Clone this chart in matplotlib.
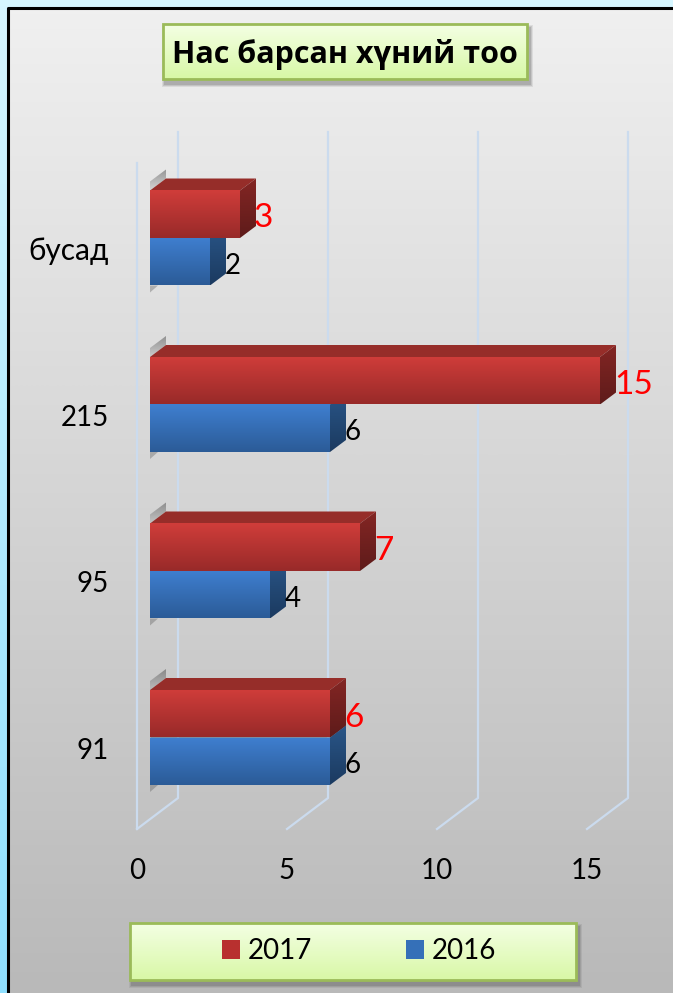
import numpy as np
import matplotlib
matplotlib.use("Agg")
import matplotlib.pyplot as plt
from matplotlib.colors import LinearSegmentedColormap
from matplotlib.patches import Polygon, Rectangle, Patch
from matplotlib.transforms import ScaledTranslation

# Datos
categorias = ["91", "95", "215", "бусад"]
valores_2017 = [6, 7, 15, 3]
valores_2016 = [6, 4, 6, 2]
ticks_x = [0, 5, 10, 15]
titulo = "Нас барсан хүний тоо"

plt.rcParams["font.family"] = ["Lato", "Open Sans", "DejaVu Sans"]

W, H = 673, 993
PX_X = 30.0     # pixeles por unidad del eje x
PX_Y = 166.5    # pixeles entre categorias
X0_PX, Y0_PX = 150, 737.5
DX, DY = 16 / PX_X, 12 / PX_Y    # profundidad de las barras
ALTO = 47.5 / PX_Y


def gradiente(ax, extent, c1, c2, clip=None, zorder=1):
    cmap = LinearSegmentedColormap.from_list("g", [c1, c2])
    im = ax.imshow(np.linspace(0, 1, 256).reshape(-1, 1), cmap=cmap, extent=extent,
                   aspect="auto", origin="upper", zorder=zorder, interpolation="bilinear")
    if clip is not None:
        ax.add_patch(clip)
        clip.set_visible(False)
        im.set_clip_path(clip)
    return im


fig = plt.figure(figsize=(W / 100, H / 100), dpi=100)

# Fondo, marco y cajas en coordenadas de pixel
fondo = fig.add_axes([0, 0, 1, 1], zorder=0)
gradiente(fondo, (0, W, H, 0), "#D6F6FF", "#8FE0FF", zorder=0)
gradiente(fondo, (8, W, H, 8), "#F0F0F0", "#B9B9B9", zorder=1)
fondo.plot([8, 8, W], [H, 8, 8], color="black", lw=2.2, zorder=2)


def caja(x0, y0, x1, y1):
    # sombra difusa en tres capas
    for m, a in [(5, 0.10), (3, 0.14), (1, 0.18)]:
        fondo.add_patch(Rectangle((x0 + 1 - m / 2, y0 + 3 - m / 2), x1 - x0 + 2 + m, y1 - y0 + 2 + m,
                                  fc="#444444", alpha=a, ec="none", zorder=3))
    gradiente(fondo, (x0, x1, y1, y0), "#F4FFE4", "#D8F8A6", zorder=4)
    fondo.add_patch(Rectangle((x0, y0), x1 - x0, y1 - y0, fc="none", ec="#9BBB59", lw=2, zorder=5))


caja(163, 24, 527, 79)
caja(130, 923, 576, 980)
fondo.text(345, 55, titulo, fontsize=22, fontweight="bold", family=["Open Sans", "DejaVu Sans"],
           ha="center", va="center", color="black", zorder=6)
fondo.set_xlim(0, W)
fondo.set_ylim(H, 0)
fondo.axis("off")

# Ejes del grafico
izq, der, arr, aba = 137, 628, 132, 829
ax = fig.add_axes([izq / W, 1 - aba / H, (der - izq) / W, (aba - arr) / H], zorder=1)
ax.patch.set_visible(False)
xlim = ((izq - X0_PX) / PX_X, (der - X0_PX) / PX_X)
ylim = ((Y0_PX - aba) / PX_Y, (Y0_PX - arr) / PX_Y)

# Rejilla
color_rejilla = "#CBDBEE"
suelo = ylim[0] + 31 / PX_Y
fondo_x = 28 / PX_X
frente_x = -13 / PX_X
for v in ticks_x:
    ax.plot([v + frente_x, v + fondo_x, v + fondo_x], [ylim[0], suelo, ylim[1]],
            color=color_rejilla, lw=1.6, zorder=1, clip_on=False, solid_joinstyle="miter")
ax.plot([frente_x, frente_x], [ylim[0], (Y0_PX - 163) / PX_Y], color=color_rejilla, lw=1.6,
        zorder=1, clip_on=False)


def barra(y_base, valor, colores, z):
    c_frente, c_frente2, c_lado, c_lado2, c_tapa = colores
    y_top = y_base + ALTO
    # sombra gris junto a la barra, se desvanece hacia arriba
    alto_sombra = 9 / PX_Y
    sombra = Polygon([(0, y_top), (DX, y_top + DY), (DX, y_top + DY + alto_sombra), (0, y_top + alto_sombra)],
                     transform=ax.transData)
    gradiente(ax, (0, DX, y_top, y_top + DY + alto_sombra), "#55555590", "#55555520", clip=sombra, zorder=z)
    # tapa
    ax.add_patch(Polygon([(0, y_top), (DX, y_top + DY), (valor + DX, y_top + DY), (valor, y_top)],
                         fc=c_tapa, ec="none", zorder=z + 0.1))
    # lado
    lado = Polygon([(valor, y_base), (valor + DX, y_base + DY), (valor + DX, y_top + DY), (valor, y_top)],
                   transform=ax.transData)
    gradiente(ax, (valor, valor + DX, y_base, y_top + DY), c_lado, c_lado2, clip=lado, zorder=z + 0.2)
    # frente
    frente = Rectangle((0, y_base), valor, ALTO, transform=ax.transData)
    gradiente(ax, (0, valor, y_base, y_top), c_frente, c_frente2, clip=frente, zorder=z + 0.3)


col_rojo = ("#D03D3A", "#982A29", "#842624", "#5E1B1A", "#962D29")
col_azul = ("#3F7FD0", "#2B5B97", "#2A5688", "#1B3A60", "#2A5688")

for i, cat in enumerate(categorias):
    barra(i - ALTO, valores_2016[i], col_azul, 2)
    barra(i, valores_2017[i], col_rojo, 3)
    # sombrita bajo la barra azul
    ax.add_patch(Polygon([(0, i - ALTO), (8 / PX_X, i - ALTO), (0, i - ALTO - 7 / PX_Y)],
                         fc="#555555", alpha=0.35, ec="none", zorder=2))
    ax.text(valores_2017[i] + DX - 2 / PX_X, i + ALTO / 2 - 4 / PX_Y, str(valores_2017[i]), color="#FF0000",
            fontsize=24, ha="left", va="center", zorder=6)
    ax.text(valores_2016[i] + DX - 1 / PX_X, i - ALTO / 2 - 4 / PX_Y, str(valores_2016[i]), color="black",
            fontsize=20, ha="left", va="center", zorder=6)

ax.set_xlim(*xlim)
ax.set_ylim(*ylim)
ax.set_xticks(ticks_x)
ax.set_yticks(range(len(categorias)))
ax.set_yticklabels(categorias)
ax.tick_params(length=0, labelsize=20, pad=0, colors="black")
for s in ax.spines.values():
    s.set_visible(False)

# Etiquetas corridas respecto a la posicion del tick
off_x = ScaledTranslation(-13 / 100, -29 / 100, fig.dpi_scale_trans)
for lab in ax.get_xticklabels():
    lab.set_transform(lab.get_transform() + off_x)
off_y = ScaledTranslation(-28 / 100, -11 / 100, fig.dpi_scale_trans)
for lab in ax.get_yticklabels():
    lab.set_transform(lab.get_transform() + off_y)
# la palabra cirilica es mas ancha en el original
ax.get_yticklabels()[-1].set_fontsize(21.5)

# Leyenda
handles = [Patch(fc="#B8302F", ec="none", label="2017"), Patch(fc="#3570B8", ec="none", label="2016")]
fig.legend(handles=handles, ncols=2, frameon=False, fontsize=20, loc="center",
           bbox_to_anchor=(359 / W, 1 - 951 / H), handlelength=0.65, handleheight=0.68,
           handletextpad=0.29, columnspacing=3.35, borderpad=0, borderaxespad=0)

fig.savefig("out.png", dpi=100)
